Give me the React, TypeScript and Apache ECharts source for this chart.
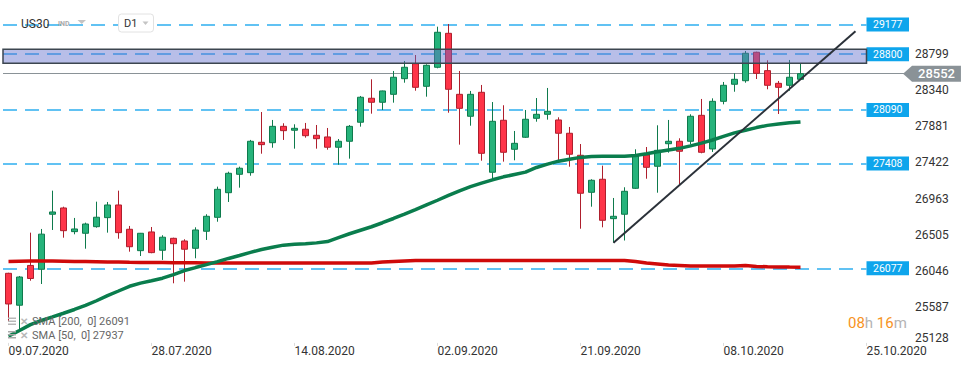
import React, { useEffect, useRef } from "react";
import * as echarts from "echarts";

// ---- categories (trading days, then calendar days after the last candle) ----
const DATES = [
  "09.07.2020", "10.07.2020", "13.07.2020", "14.07.2020", "15.07.2020", "16.07.2020", "17.07.2020",
  "20.07.2020", "21.07.2020", "22.07.2020", "23.07.2020", "24.07.2020", "27.07.2020", "28.07.2020",
  "29.07.2020", "30.07.2020", "31.07.2020", "03.08.2020", "04.08.2020", "05.08.2020", "06.08.2020",
  "07.08.2020", "10.08.2020", "11.08.2020", "12.08.2020", "13.08.2020", "14.08.2020", "17.08.2020",
  "18.08.2020", "19.08.2020", "20.08.2020", "21.08.2020", "24.08.2020", "25.08.2020", "26.08.2020",
  "27.08.2020", "28.08.2020", "31.08.2020", "01.09.2020", "02.09.2020", "03.09.2020", "04.09.2020",
  "07.09.2020", "08.09.2020", "09.09.2020", "10.09.2020", "11.09.2020", "14.09.2020", "15.09.2020",
  "16.09.2020", "17.09.2020", "18.09.2020", "21.09.2020", "22.09.2020", "23.09.2020", "24.09.2020",
  "25.09.2020", "28.09.2020", "29.09.2020", "30.09.2020", "01.10.2020", "02.10.2020", "05.10.2020",
  "06.10.2020", "07.10.2020", "08.10.2020", "09.10.2020", "12.10.2020", "13.10.2020", "14.10.2020",
  "15.10.2020", "16.10.2020", "19.10.2020", "20.10.2020", "21.10.2020", "22.10.2020", "23.10.2020",
  "24.10.2020", "25.10.2020", "26.10.2020", "27.10.2020", "28.10.2020",
];

// ---- OHLC ----
const OPEN = [
  26013, 25607, 26113, 26064, 26764, 26844, 26543, 26522, 26606, 26721, 26882, 26573, 26301, 26539,
  26306, 26458, 26424, 26331, 26548, 26725, 27038, 27272, 27293, 27679, 27674, 27882, 27832, 27845,
  27768, 27747, 27616, 27692, 27934, 28239, 28188, 28289, 28488, 28679, 28391, 28633, 29065, 28289,
  28010, 28315, 27298, 27959, 27590, 27743, 27984, 28035, 27963, 27794, 27514, 27043, 27209, 26708,
  26764, 27094, 27518, 27374, 27661, 27692, 27692, 28022, 27594, 28200, 28417, 28462, 28824, 28590,
  28429, 28404, 28480,
];
const CLOSE = [
  25623, 25966, 25947, 26511, 26793, 26555, 26577, 26640, 26726, 26882, 26530, 26351, 26522, 26276,
  26472, 26390, 26319, 26564, 26738, 27081, 27285, 27349, 27692, 27649, 27882, 27827, 27857, 27763,
  27725, 27616, 27692, 27882, 28252, 28188, 28332, 28506, 28633, 28378, 28658, 29078, 28353, 28111,
  28289, 27539, 27946, 27552, 27666, 27972, 28035, 28073, 27794, 27527, 27031, 27196, 26687, 26738,
  27056, 27514, 27361, 27577, 27692, 27565, 28010, 27552, 28200, 28404, 28480, 28811, 28556, 28404,
  28378, 28506, 28552,
];
const HIGH = [
  26020, 25979, 26530, 26577, 27064, 26860, 26717, 26657, 26924, 26920, 27064, 26615, 26526, 26602,
  26497, 26466, 26446, 26598, 26764, 27115, 27305, 27369, 27709, 28064, 27963, 27921, 27908, 27925,
  27899, 27861, 27721, 27899, 28268, 28480, 28336, 28586, 28713, 28789, 28671, 29149, 29183, 28586,
  28332, 28408, 28191, 28150, 27823, 28090, 28242, 28370, 27997, 27874, 27657, 27209, 27382, 26971,
  27107, 27590, 27619, 27895, 27963, 27730, 28035, 28230, 28238, 28446, 28556, 28840, 28831, 28722,
  28459, 28726, 28683,
];
const LOW = [
  25398, 25292, 25919, 25877, 26564, 26466, 26509, 26326, 26593, 26530, 26453, 26288, 26233, 26268,
  26183, 25886, 25907, 26204, 26437, 26669, 26920, 27102, 27254, 27534, 27610, 27709, 27598, 27738,
  27598, 27585, 27394, 27471, 27878, 28043, 28090, 28183, 28437, 28335, 28259, 28620, 28055, 27649,
  27890, 27445, 27209, 27433, 27450, 27734, 27941, 27967, 27454, 27369, 26580, 26860, 26598, 26403,
  26430, 27085, 27216, 27038, 27547, 27140, 27654, 27539, 27556, 28162, 28322, 28437, 28484, 28353,
  28039, 28335, 28472,
];

// ---- indicators ----
const SMA50 = [
  25213, 25286, 25360, 25413, 25458, 25505, 25553, 25604, 25664, 25729, 25788, 25848, 25888, 25919,
  25951, 25997, 26048, 26086, 26123, 26161, 26202, 26240, 26279, 26316, 26345, 26371, 26381, 26390,
  26400, 26417, 26467, 26516, 26561, 26605, 26656, 26710, 26765, 26822, 26882, 26942, 27003, 27062,
  27115, 27159, 27202, 27240, 27270, 27300, 27359, 27401, 27439, 27464, 27487, 27497, 27500, 27501,
  27502, 27511, 27533, 27558, 27580, 27602, 27633, 27669, 27708, 27754, 27799, 27833, 27866, 27894,
  27912, 27927, 27937,
];
const SMA200 = [
  26164, 26167, 26170, 26170, 26168, 26166, 26164, 26162, 26160, 26158, 26156, 26153, 26151, 26150,
  26149, 26148, 26147, 26146, 26145, 26144, 26144, 26144, 26144, 26144, 26144, 26144, 26144, 26144,
  26144, 26144, 26144, 26144, 26144, 26144, 26157, 26164, 26170, 26175, 26176, 26176, 26176, 26176,
  26176, 26176, 26176, 26176, 26176, 26176, 26176, 26176, 26176, 26176, 26176, 26176, 26176, 26176,
  26176, 26163, 26144, 26132, 26119, 26113, 26106, 26106, 26106, 26106, 26106, 26112, 26100, 26096,
  26094, 26092, 26091,
];
const SMA200_LAST = 26091;
const SMA50_LAST = 27937;

// ---- axis ----
const Y_TICK_LABELS = [25128, 25587, 26046, 26505, 26963, 27422, 27881, 28340, 28799];
const Y_MIN = 25128;
const Y_MAX = 29488.5;
const Y_STEP = 458.875;
const LABEL_EVERY = 13;

// ---- annotations ----
const LEVELS = [29177, 28800, 28090, 27408, 26077];
const LEVEL_END = 78; // index of the last level-line point
const ZONE = [28684, 28862];
const LAST_PRICE = 28552;
const TREND = [
  [55, 26403],
  [77, 29090],
];
const X_MIN = -0.5;
const X_MAX = 81.5;

const FONT = "Roboto, 'Noto Sans', sans-serif";

export default function App() {
  const ref = useRef<HTMLDivElement>(null);

  useEffect(() => {
    if (!ref.current) return;
    const chart = echarts.init(ref.current, undefined, { renderer: "svg" });
    const showIdx = (i: number) => i % LABEL_EVERY === 0;

    const option: any = {
      animation: false,
      backgroundColor: "#ffffff",
      textStyle: { fontFamily: FONT },
      grid: { left: 3, top: 0, width: 902, height: 342.9 },
      xAxis: [
        {
          type: "category",
          data: DATES,
          boundaryGap: true,
          axisLine: { show: false },
          splitLine: { show: false },
          axisTick: {
            show: true,
            interval: showIdx,
            alignWithLabel: true,
            length: 3,
            lineStyle: { color: "#dcdcdc" },
          },
          axisLabel: {
            interval: showIdx,
            align: "left",
            color: "#333",
            fontSize: 12,
            margin: 2,
            fontFamily: FONT,
          },
        },
        { type: "value", min: X_MIN, max: X_MAX, show: false },
      ],
      yAxis: {
        type: "value",
        position: "right",
        min: Y_MIN,
        max: Y_MAX,
        interval: Y_STEP,
        splitLine: { show: false },
        axisLine: { show: false },
        axisTick: { show: false },
        axisLabel: {
          margin: 10,
          color: "#333",
          fontSize: 12,
          fontFamily: FONT,
          showMaxLabel: false,
          formatter: (v: number) => {
            const k = Math.round((v - Y_MIN) / Y_STEP);
            if (k < 0 || k >= Y_TICK_LABELS.length) return "";
            if (Math.abs(v - (Y_MIN + k * Y_STEP)) > 1) return "";
            return k === 0 ? `{b|${Y_TICK_LABELS[0]}}` : String(Y_TICK_LABELS[k]);
          },
          rich: { b: { fontSize: 12, color: "#333", padding: [0, 0, 10, 0], fontFamily: FONT } },
        },
      },
      series: [
        {
          name: "US30",
          type: "candlestick",
          data: OPEN.map((o, i) => [o, CLOSE[i], LOW[i], HIGH[i]]),
          barWidth: 6,
          z: 2,
          itemStyle: {
            color: "#26b37b",
            color0: "#fe3448",
            borderColor: "#0e7a4c",
            borderColor0: "#ae1f2d",
            borderWidth: 1,
          },
        },
        {
          name: "SMA200",
          type: "line",
          data: SMA200,
          symbol: "none",
          z: 3,
          lineStyle: { color: "#cf0a0a", width: 3.5 },
        },
        {
          name: "SMA50",
          type: "line",
          data: SMA50,
          symbol: "none",
          z: 3,
          lineStyle: { color: "#0a7d4d", width: 3.5 },
        },
        {
          name: "levels",
          type: "line",
          xAxisIndex: 1,
          data: [],
          markLine: {
            silent: true,
            z: 1,
            symbol: ["none", "none"],
            lineStyle: { color: "#2eaef0", width: 1.5, type: [14, 8] },
            label: {
              show: true,
              position: "end",
              distance: 0,
              backgroundColor: "#0ea5ec",
              color: "#fff",
              fontSize: 10.5,
              lineHeight: 12,
              padding: [1, 6.5, 1, 6.5],
              fontFamily: FONT,
            },
            data: LEVELS.map((v) => [
              { coord: [X_MIN, v], label: { formatter: String(v) } },
              { coord: [LEVEL_END, v] },
            ]),
          },
        },
        {
          name: "price",
          type: "line",
          xAxisIndex: 1,
          data: [],
          markLine: {
            silent: true,
            z: 1,
            symbol: ["none", "none"],
            lineStyle: { color: "#8a9297", width: 1, type: "solid" },
            label: {
              show: true,
              position: "end",
              distance: 7,
              backgroundColor: "#8a9297",
              color: "#fff",
              fontSize: 13,
              fontWeight: 500,
              lineHeight: 13,
              padding: [2, 6, 1, 6],
              fontFamily: FONT,
            },
            data: [
              [
                { coord: [X_MIN, LAST_PRICE], label: { formatter: String(LAST_PRICE) } },
                { coord: [X_MAX, LAST_PRICE] },
              ],
            ],
          },
        },
        {
          name: "zone",
          type: "line",
          xAxisIndex: 1,
          data: [],
          markArea: {
            silent: true,
            z: 4,
            itemStyle: {
              color: "rgba(98,110,205,0.45)",
              borderColor: "#3c4650",
              borderWidth: 1.5,
            },
            data: [[{ coord: [X_MIN, ZONE[1]] }, { coord: [LEVEL_END, ZONE[0]] }]],
          },
        },
        {
          name: "trend",
          type: "line",
          xAxisIndex: 1,
          data: [],
          markLine: {
            silent: true,
            z: 5,
            symbol: ["none", "none"],
            label: { show: false },
            lineStyle: { color: "#2b3139", width: 2, type: "solid" },
            data: [[{ coord: TREND[0] }, { coord: TREND[1] }]],
          },
        },
      ],
    };

    chart.setOption(option);

    const yPx = chart.convertToPixel({ yAxisIndex: 0 }, LAST_PRICE) as number;
    const xPx = chart.convertToPixel({ xAxisIndex: 1 }, X_MAX) as number;

    const gray = "#b8b8b8";
    const legendIcon = (y: number, fill: string) => [
      { type: "rect", z: 100, shape: { x: 8, y: y - 4, width: 8, height: 1.5 }, style: { fill } },
      { type: "rect", z: 100, shape: { x: 8, y: y - 1, width: 8, height: 1.5 }, style: { fill } },
      { type: "rect", z: 100, shape: { x: 8, y: y + 2, width: 8, height: 1.5 }, style: { fill } },
      {
        type: "text",
        z: 100,
        x: 20,
        y: y,
        style: { text: "✕", fill: gray, font: `bold 10px ${FONT}`, verticalAlign: "middle" },
      },
    ];

    chart.setOption({
      graphic: [
        {
          type: "polygon",
          z: 100,
          shape: { points: [[xPx - 2, yPx], [xPx + 7, yPx - 8], [xPx + 7, yPx + 8]] },
          style: { fill: "#8a9297" },
        },
        {
          type: "text",
          z: 100,
          x: 21,
          y: 23.5,
          style: { text: "US30", fill: "#333", font: `12px ${FONT}`, verticalAlign: "middle" },
        },
        {
          type: "text",
          z: 100,
          x: 58,
          y: 24,
          style: { text: "IND", fill: "#aaa", font: `bold 7px ${FONT}`, verticalAlign: "middle" },
        },
        {
          type: "polygon",
          z: 100,
          shape: { points: [[77.5, 20], [86, 20], [81.75, 24]] },
          style: { fill: "#c4c4c4" },
        },
        {
          type: "rect",
          z: 100,
          shape: { x: 118.5, y: 14, width: 35, height: 18, r: 3 },
          style: { fill: "#fff", stroke: "#e2e2e2", lineWidth: 1 },
        },
        {
          type: "text",
          z: 101,
          x: 124,
          y: 23.5,
          style: { text: "D1", fill: "#333", font: `11px ${FONT}`, verticalAlign: "middle" },
        },
        {
          type: "polygon",
          z: 101,
          shape: { points: [[142.5, 21.5], [148.5, 21.5], [145.5, 25]] },
          style: { fill: "#c4c4c4" },
        },
        ...legendIcon(321.5, gray),
        ...legendIcon(335, "#a8a8a8"),
        {
          type: "text",
          z: 100,
          x: 32,
          y: 321.5,
          style: {
            text: `SMA [200,  0] ${SMA200_LAST}`,
            fill: "#666",
            font: `11px ${FONT}`,
            verticalAlign: "middle",
          },
        },
        {
          type: "text",
          z: 100,
          x: 32,
          y: 335,
          style: {
            text: `SMA [50,  0] ${SMA50_LAST}`,
            fill: "#666",
            font: `11px ${FONT}`,
            verticalAlign: "middle",
          },
        },
        {
          type: "text",
          z: 100,
          x: 848,
          y: 322.5,
          style: {
            text: "{o|08}{g|h} {o|16}{g|m}",
            verticalAlign: "middle",
            font: `15px ${FONT}`,
            rich: {
              o: { fill: "#f7931e", fontSize: 15, fontFamily: FONT },
              g: { fill: "#b4b4b4", fontSize: 15, fontFamily: FONT },
            },
          },
        },
      ],
    });

    return () => chart.dispose();
  }, []);

  return (
    <div
      ref={ref}
      style={{ position: "fixed", left: 0, top: 0, width: 974, height: 368, background: "#fff" }}
    />
  );
}
